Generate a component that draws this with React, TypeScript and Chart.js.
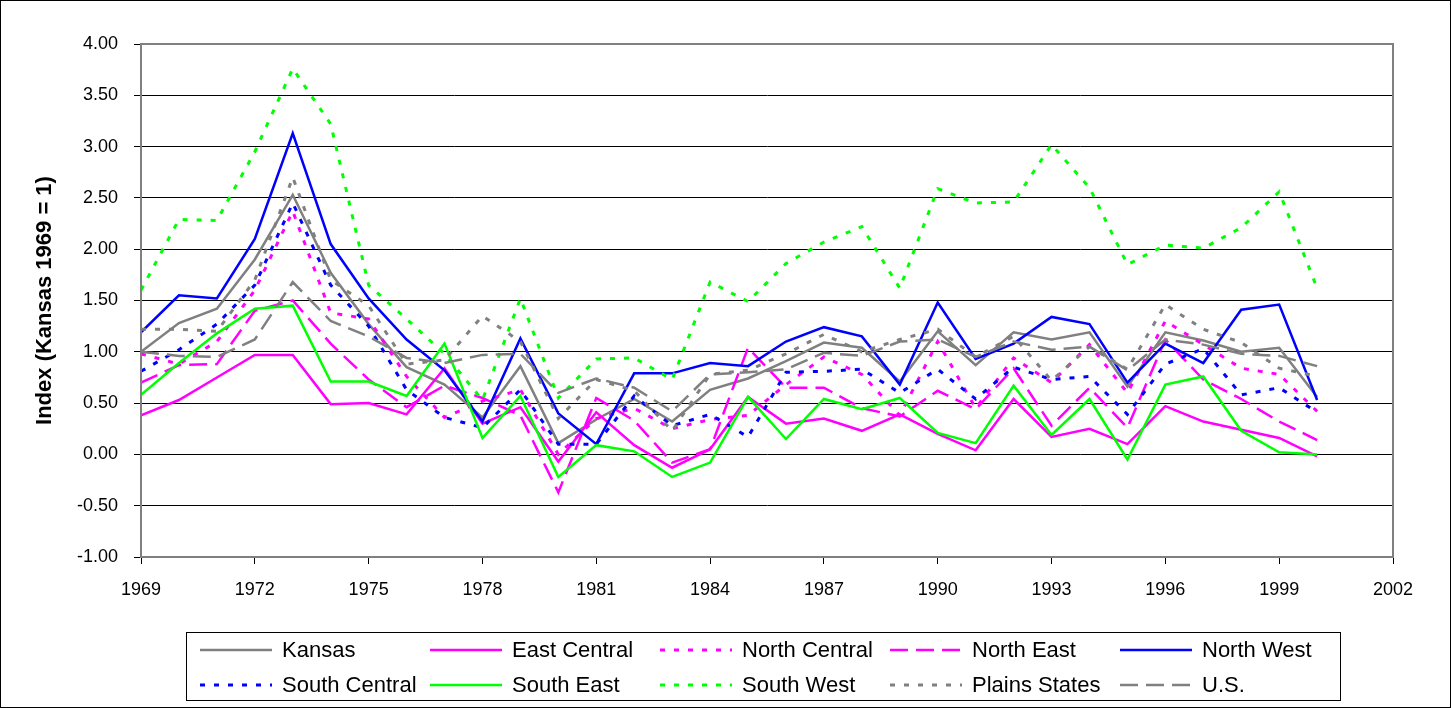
import React, { useEffect, useRef } from "react";
import { Chart, registerables } from "chart.js";

Chart.register(...registerables);

const years = [1969,1970,1971,1972,1973,1974,1975,1976,1977,1978,1979,1980,1981,1982,1983,1984,1985,1986,1987,1988,1989,1990,1991,1992,1993,1994,1995,1996,1997,1998,1999,2000];

const kansas = [1.00,1.28,1.42,1.90,2.53,1.77,1.27,0.85,0.68,0.36,0.86,0.11,0.34,0.54,0.32,0.63,0.74,0.91,1.09,1.04,0.71,1.20,0.87,1.19,1.12,1.19,0.66,1.19,1.11,1.00,1.04,0.56];
const eastCentral = [0.38,0.53,0.75,0.97,0.97,0.49,0.50,0.39,0.84,0.30,0.46,-0.07,0.41,0.09,-0.13,0.05,0.56,0.30,0.35,0.23,0.39,0.20,0.04,0.54,0.17,0.25,0.10,0.47,0.32,0.24,0.16,-0.02];
const northCentral = [0.98,0.88,1.10,1.60,2.37,1.38,1.32,0.76,0.36,0.52,0.63,0.00,0.35,0.45,0.25,0.34,0.38,0.68,0.95,0.78,0.38,1.10,0.45,0.94,0.70,1.07,0.60,1.30,1.07,0.84,0.78,0.42];
const northEast = [0.70,0.87,0.88,1.40,1.50,1.08,0.73,0.46,0.67,0.55,0.38,-0.37,0.55,0.33,-0.08,0.05,1.04,0.65,0.65,0.45,0.37,0.62,0.44,0.84,0.28,0.65,0.26,1.12,0.73,0.54,0.32,0.14];
const northWest = [1.19,1.55,1.52,2.10,3.13,2.05,1.52,1.12,0.82,0.32,1.13,0.40,0.10,0.79,0.79,0.89,0.86,1.10,1.24,1.15,0.68,1.48,0.93,1.08,1.34,1.27,0.70,1.08,0.89,1.41,1.46,0.53];
const southCentral = [0.81,1.02,1.27,1.65,2.45,1.65,1.25,0.63,0.36,0.26,0.63,0.10,0.10,0.57,0.28,0.39,0.17,0.80,0.81,0.83,0.60,0.83,0.54,0.85,0.73,0.76,0.39,0.88,1.03,0.58,0.65,0.41];
const southEast = [0.58,0.89,1.18,1.42,1.45,0.71,0.71,0.57,1.08,0.16,0.57,-0.22,0.09,0.03,-0.22,-0.08,0.56,0.15,0.54,0.44,0.55,0.21,0.11,0.67,0.19,0.54,-0.05,0.68,0.76,0.23,0.02,0.00];
const southWest = [1.60,2.29,2.28,2.95,3.76,3.22,1.65,1.32,0.98,0.53,1.52,0.55,0.93,0.94,0.73,1.68,1.49,1.86,2.07,2.22,1.62,2.59,2.45,2.46,3.02,2.60,1.85,2.04,2.01,2.21,2.56,1.62];
const plainsStates = [1.22,1.22,1.20,1.70,2.70,1.70,1.45,0.88,0.92,1.35,1.10,0.35,0.73,0.62,0.23,0.78,0.82,0.98,1.17,1.00,1.12,1.22,0.95,1.15,0.72,1.05,0.83,1.46,1.22,1.09,0.84,0.76];
const us = [1.00,0.96,0.95,1.12,1.68,1.30,1.15,0.94,0.89,0.97,0.98,0.60,0.74,0.65,0.42,0.78,0.80,0.83,0.99,0.96,1.10,1.12,0.95,1.10,1.02,1.05,0.82,1.12,1.07,0.98,0.96,0.86];

const seriesNames = ["Kansas","East Central","North Central","North East","North West","South Central","South East","South West","Plains States","U.S."];

const GRAY = "#808080";
const MAGENTA = "#FF00FF";
const BLUE = "#0000FF";
const GREEN = "#00FF00";

const DOT = [5, 9];
const DASH = [18, 8];
const SOLID: number[] = [];

const styles = [
  { color: GRAY, dash: SOLID, width: 2.5 },
  { color: MAGENTA, dash: SOLID, width: 2.5 },
  { color: MAGENTA, dash: DOT, width: 3 },
  { color: MAGENTA, dash: DASH, width: 2.5 },
  { color: BLUE, dash: SOLID, width: 2.5 },
  { color: BLUE, dash: DOT, width: 3 },
  { color: GREEN, dash: SOLID, width: 2.5 },
  { color: GREEN, dash: DOT, width: 3 },
  { color: GRAY, dash: DOT, width: 3 },
  { color: GRAY, dash: DASH, width: 2.5 },
];

const seriesValues = [kansas, eastCentral, northCentral, northEast, northWest, southCentral, southEast, southWest, plainsStates, us];

const FONT = "Arial, 'Liberation Sans', sans-serif";

const frameAndLegend = {
  id: "frameAndLegend",
  afterDraw(chart: any) {
    const ctx = chart.ctx;
    const { left, right, top, bottom } = chart.chartArea;
    ctx.save();
    ctx.strokeStyle = GRAY;
    ctx.lineWidth = 2;
    ctx.setLineDash([]);
    ctx.strokeRect(left, top, right - left, bottom - top);
    ctx.strokeStyle = "#000";
    ctx.lineWidth = 1;
    ctx.strokeRect(0.5, 0.5, chart.width - 1, chart.height - 1);
    const lx = 186, ly = 632, lw = 1154, lh = 68;
    ctx.strokeRect(lx + 0.5, ly + 0.5, lw, lh);
    ctx.font = "22px " + FONT;
    ctx.textBaseline = "middle";
    ctx.textAlign = "left";
    ctx.fillStyle = "#000";
    seriesNames.forEach((name, i) => {
      const col = i % 5;
      const row = Math.floor(i / 5);
      const x0 = 200 + col * 230;
      const y0 = row === 0 ? 650 : 685;
      const st = styles[i];
      ctx.strokeStyle = st.color;
      ctx.lineWidth = st.width;
      ctx.setLineDash(st.dash);
      ctx.beginPath();
      ctx.moveTo(x0, y0);
      ctx.lineTo(x0 + 72, y0);
      ctx.stroke();
      ctx.setLineDash([]);
      ctx.fillText(name, x0 + 82, y0 + 1);
    });
    ctx.restore();
  },
};

export default function App() {
  const ref = useRef<HTMLCanvasElement | null>(null);
  useEffect(() => {
    document.body.style.margin = "0";
    const canvas = ref.current;
    if (!canvas) return;
    const datasets = seriesNames.map((name, i) => ({
      label: name,
      data: years.map((yr, j) => ({ x: yr, y: seriesValues[i][j] })),
      borderColor: styles[i].color,
      backgroundColor: styles[i].color,
      borderWidth: styles[i].width,
      borderDash: styles[i].dash,
      pointRadius: 0,
      fill: false,
      tension: 0,
      order: seriesNames.length - i,
    }));
    const chart = new Chart(canvas, {
      type: "line",
      data: { datasets },
      plugins: [frameAndLegend],
      options: {
        animation: false,
        responsive: false,
        devicePixelRatio: 1,
        layout: { padding: { left: 0, top: 44, right: 58, bottom: 0 } },
        plugins: { legend: { display: false }, tooltip: { enabled: false } },
        scales: {
          x: {
            type: "linear",
            min: 1969,
            max: 2002,
            afterFit: (s: any) => { s.height = 151; },
            ticks: {
              stepSize: 3,
              autoSkip: false,
              maxRotation: 0,
              padding: 15,
              color: "#000",
              font: { size: 18, family: FONT },
              callback: (v: any) => String(v),
            },
            grid: { drawOnChartArea: false, drawTicks: true, tickLength: 7, tickColor: "#000" },
            border: { color: GRAY, width: 2 },
          },
          y: {
            type: "linear",
            min: -1,
            max: 4,
            afterFit: (s: any) => { s.width = 141; },
            ticks: {
              stepSize: 0.5,
              padding: 16,
              color: "#000",
              font: { size: 18, family: FONT },
              callback: (v: any) => Number(v).toFixed(2),
            },
            grid: { color: "#000", lineWidth: 1, tickLength: 7, tickColor: "#000" },
            border: { color: GRAY, width: 2 },
            title: {
              display: true,
              text: "Index (Kansas 1969 = 1)",
              color: "#000",
              font: { size: 22, weight: "bold", family: FONT },
              padding: { top: 32, bottom: 0 },
            },
          },
        },
      },
    });
    return () => chart.destroy();
  }, []);
  return <canvas ref={ref} width={1451} height={708} style={{ display: "block" }} />;
}
